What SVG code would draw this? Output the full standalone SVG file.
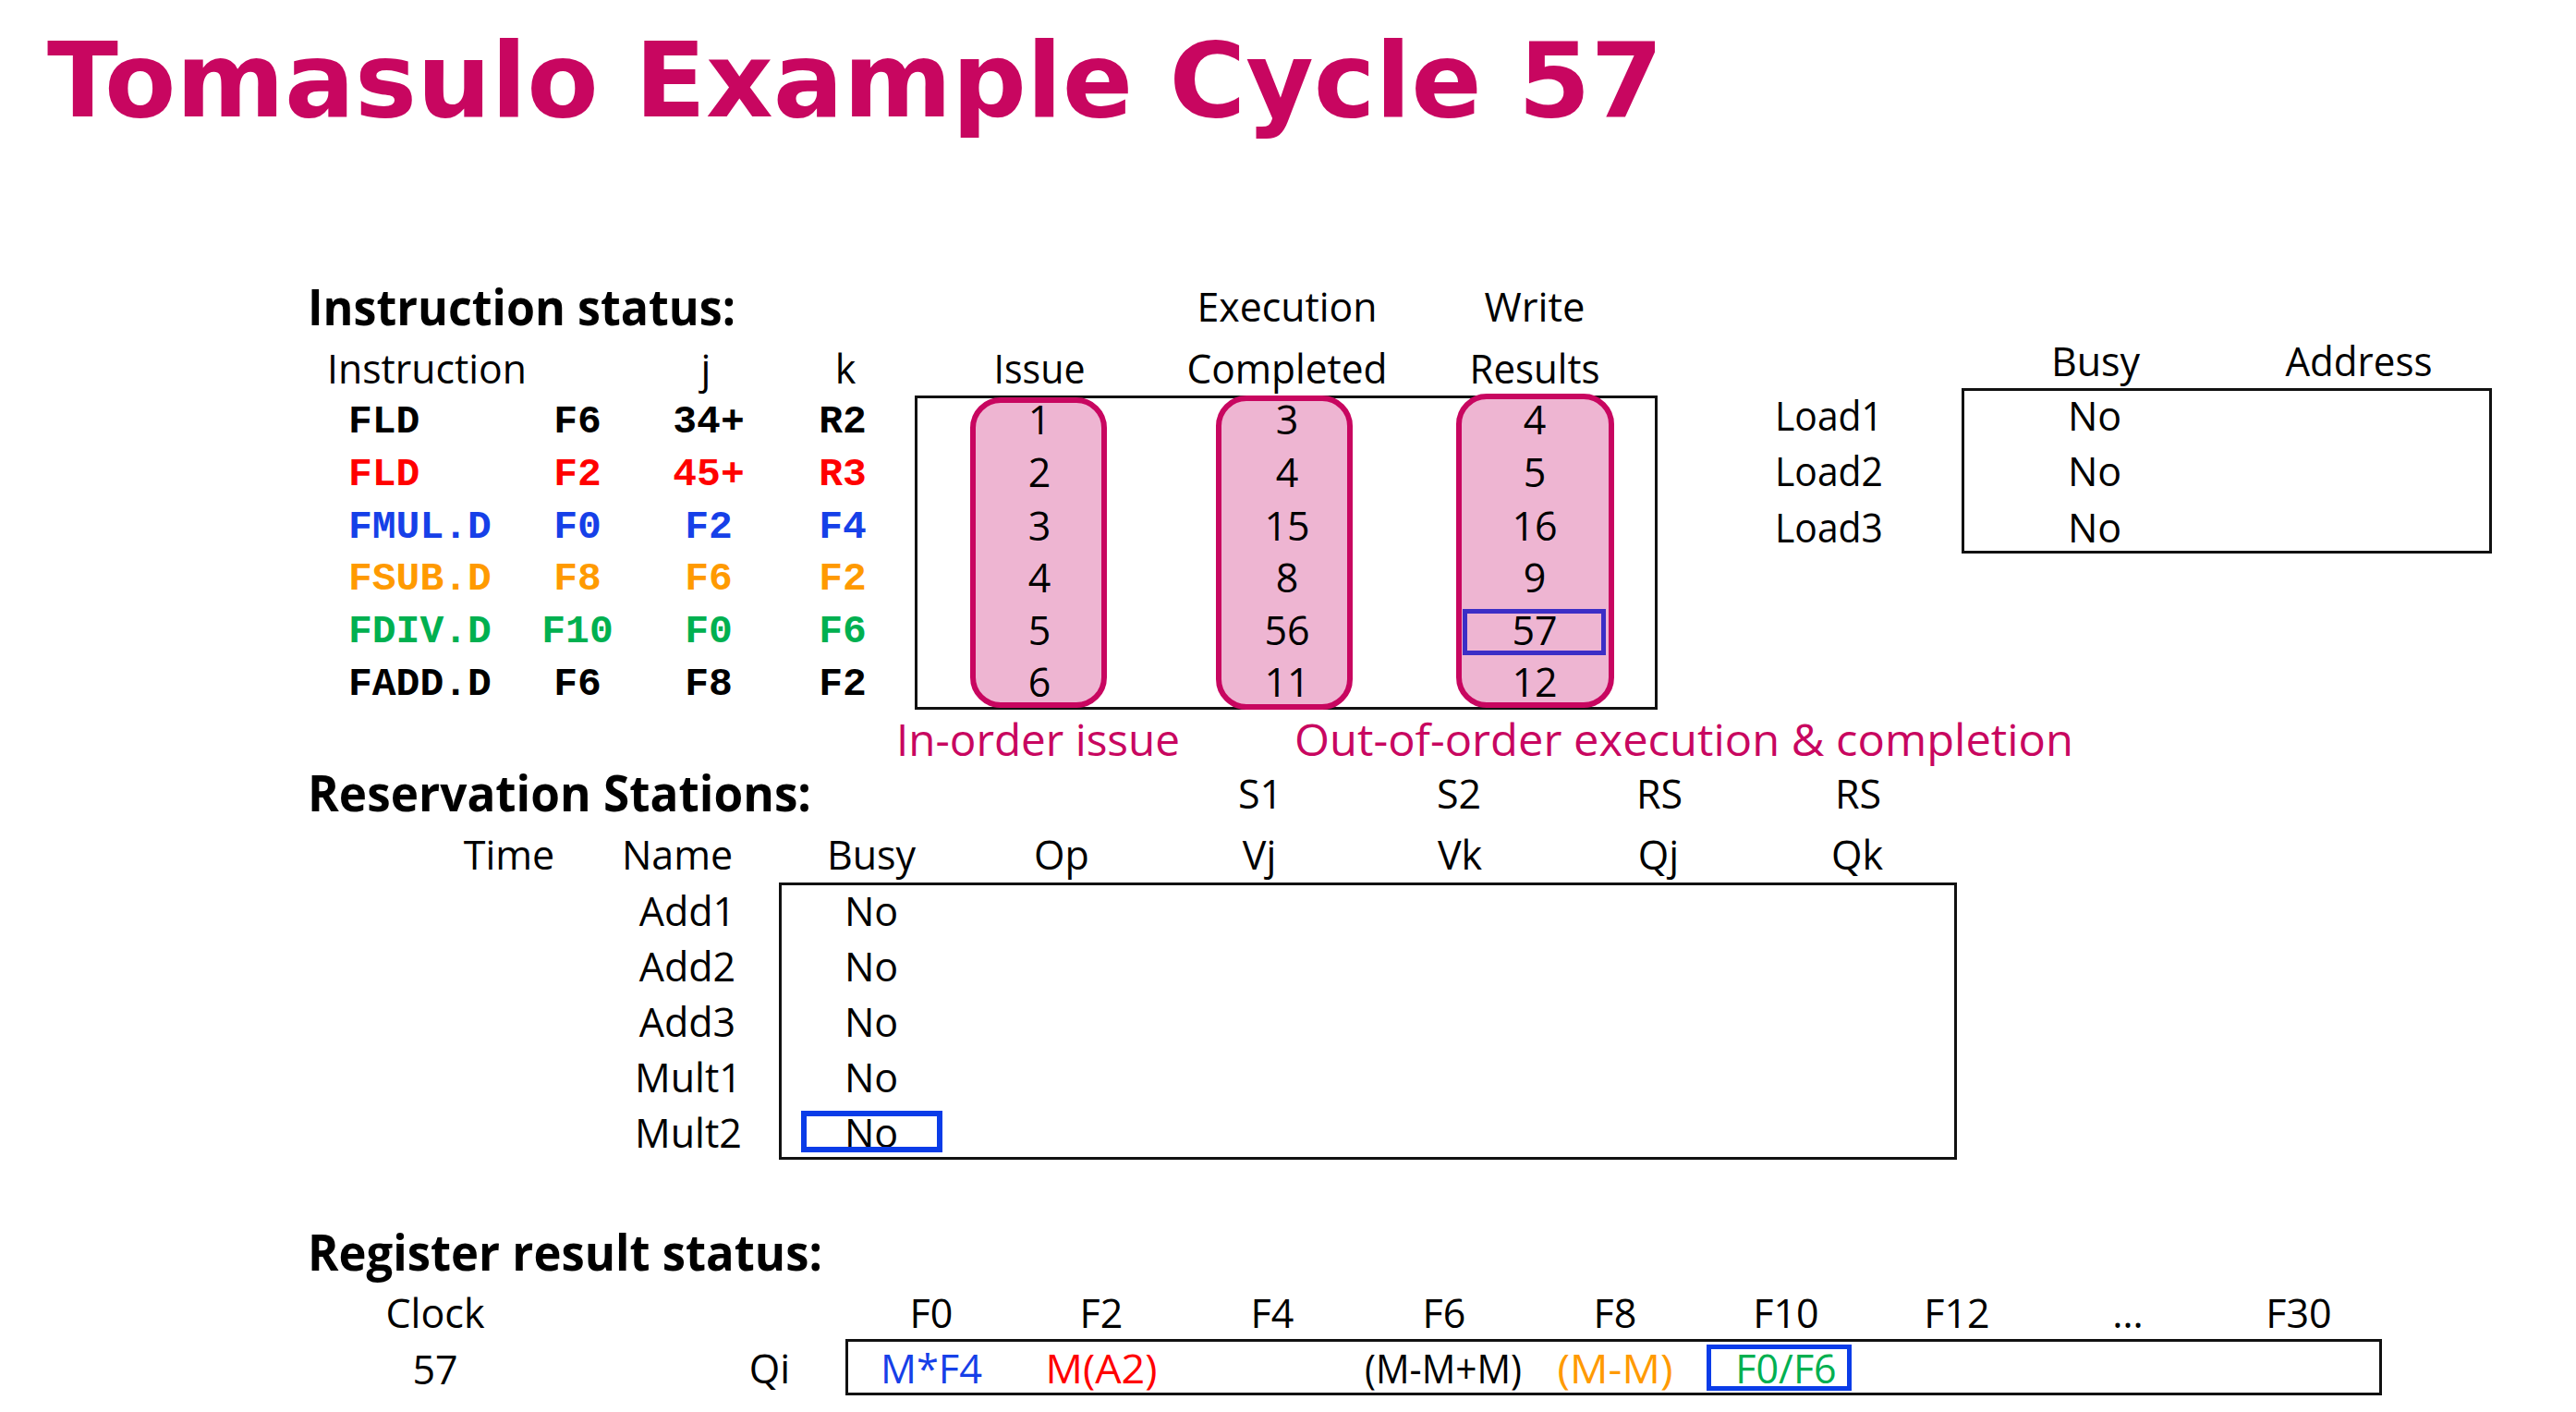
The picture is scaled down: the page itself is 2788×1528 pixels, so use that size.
<svg xmlns="http://www.w3.org/2000/svg" width="2788" height="1528" viewBox="0 0 2788 1528">
<style>
text{font-family:"Open Sans","Liberation Sans",sans-serif;font-size:43px;fill:#000}
.c{text-anchor:middle}
.h{font-weight:bold;font-size:54px}
.m{font-family:"Liberation Mono","Courier New",monospace;font-weight:bold;font-size:43px}
.mg{fill:#C80660;font-size:47px}
.box{fill:none;stroke:#111;stroke-width:3}
.pill{fill:#EEB5D2;stroke:#C80660;stroke-width:6}
.blue{fill:#1640E8}.red{fill:#FF0000}.orange{fill:#FF9A00}.green{fill:#00B050}
</style>
<rect width="2788" height="1528" fill="#fff"/>
<g id="title">
<text x="51" y="126" textLength="1749" lengthAdjust="spacingAndGlyphs" style="font-family:'DejaVu Sans',Verdana,sans-serif;font-weight:bold;font-size:112px;fill:#C80660">Tomasulo Example Cycle 57</text>
</g>
<g id="instruction-status">
<text class="h" x="333" y="352" textLength="463" lengthAdjust="spacingAndGlyphs">Instruction status:</text>
<text x="354" y="415" textLength="216" lengthAdjust="spacingAndGlyphs">Instruction</text>
<text class="c" x="764" y="415">j</text>
<text class="c" x="915" y="415">k</text>
<text class="c" x="1393" y="348" textLength="195" lengthAdjust="spacingAndGlyphs">Execution</text>
<text class="c" x="1661" y="348" textLength="109" lengthAdjust="spacingAndGlyphs">Write</text>
<text class="c" x="1125" y="415" textLength="99" lengthAdjust="spacingAndGlyphs">Issue</text>
<text class="c" x="1393" y="415" textLength="217" lengthAdjust="spacingAndGlyphs">Completed</text>
<text class="c" x="1661" y="415" textLength="141" lengthAdjust="spacingAndGlyphs">Results</text>
<g id="instr-rows">
<text class="m" x="377" y="468">FLD</text><text class="m c" x="625" y="468">F6</text><text class="m c" x="767" y="468">34+</text><text class="m c" x="912" y="468">R2</text>
<text class="m red" x="377" y="525">FLD</text><text class="m c red" x="625" y="525">F2</text><text class="m c red" x="767" y="525">45+</text><text class="m c red" x="912" y="525">R3</text>
<text class="m blue" x="377" y="582">FMUL.D</text><text class="m c blue" x="625" y="582">F0</text><text class="m c blue" x="767" y="582">F2</text><text class="m c blue" x="912" y="582">F4</text>
<text class="m orange" x="377" y="638">FSUB.D</text><text class="m c orange" x="625" y="638">F8</text><text class="m c orange" x="767" y="638">F6</text><text class="m c orange" x="912" y="638">F2</text>
<text class="m green" x="377" y="695">FDIV.D</text><text class="m c green" x="625" y="695">F10</text><text class="m c green" x="767" y="695">F0</text><text class="m c green" x="912" y="695">F6</text>
<text class="m" x="377" y="752">FADD.D</text><text class="m c" x="625" y="752">F6</text><text class="m c" x="767" y="752">F8</text><text class="m c" x="912" y="752">F2</text>
</g>
<rect class="box" x="991.5" y="429.5" width="801" height="337"/>
<rect id="issue-col" class="pill" x="1053" y="433" width="142" height="330" rx="30"/>
<rect id="exec-col" class="pill" x="1319" y="431" width="142" height="334" rx="30"/>
<rect id="write-col" class="pill" x="1579" y="429" width="165" height="334" rx="30"/>
<rect x="1585.5" y="661.5" width="150" height="45" fill="none" stroke="#3C2EC6" stroke-width="5"/>
<g id="issue-nums" style="fill:#2a0015">
<text class="c" x="1125" y="470">1</text><text class="c" x="1125" y="527">2</text><text class="c" x="1125" y="585">3</text><text class="c" x="1125" y="641">4</text><text class="c" x="1125" y="698">5</text><text class="c" x="1125" y="754">6</text>
</g>
<g id="exec-nums">
<text class="c" x="1393" y="470">3</text><text class="c" x="1393" y="527">4</text><text class="c" x="1393" y="585">15</text><text class="c" x="1393" y="641">8</text><text class="c" x="1393" y="698">56</text><text class="c" x="1393" y="754">11</text>
</g>
<g id="write-nums">
<text class="c" x="1661" y="470">4</text><text class="c" x="1661" y="527">5</text><text class="c" x="1661" y="585">16</text><text class="c" x="1661" y="641">9</text><text class="c" x="1661" y="698">57</text><text class="c" x="1661" y="754">12</text>
</g>
<text class="mg" x="970" y="818" textLength="307" lengthAdjust="spacingAndGlyphs">In-order issue</text>
<text class="mg" x="1401" y="818" textLength="843" lengthAdjust="spacingAndGlyphs">Out-of-order execution &amp; completion</text>
</g>
<g id="load-buffers">
<text class="c" x="2268" y="407">Busy</text>
<text class="c" x="2553" y="407" textLength="159" lengthAdjust="spacingAndGlyphs">Address</text>
<rect class="box" x="2124.5" y="421.5" width="571" height="176"/>
<text x="1921" y="466" textLength="117" lengthAdjust="spacingAndGlyphs">Load1</text>
<text x="1921" y="526" textLength="117" lengthAdjust="spacingAndGlyphs">Load2</text>
<text x="1921" y="587" textLength="117" lengthAdjust="spacingAndGlyphs">Load3</text>
<text class="c" x="2267" y="466">No</text>
<text class="c" x="2267" y="526">No</text>
<text class="c" x="2267" y="587">No</text>
</g>
<g id="reservation-stations">
<text class="h" x="333" y="878" textLength="545" lengthAdjust="spacingAndGlyphs">Reservation Stations:</text>
<text class="c" x="1364" y="875">S1</text><text class="c" x="1579" y="875">S2</text><text class="c" x="1796" y="875">RS</text><text class="c" x="2011" y="875">RS</text>
<text class="c" x="551" y="941">Time</text><text class="c" x="733" y="941">Name</text><text class="c" x="943" y="941">Busy</text><text class="c" x="1149" y="941">Op</text>
<text class="c" x="1363" y="941">Vj</text><text class="c" x="1580" y="941">Vk</text><text class="c" x="1795" y="941">Qj</text><text class="c" x="2010" y="941">Qk</text>
<rect class="box" x="844.5" y="956.5" width="1272" height="297"/>
<text class="c" x="744" y="1002">Add1</text><text class="c" x="744" y="1062">Add2</text><text class="c" x="744" y="1122">Add3</text><text class="c" x="745" y="1182">Mult1</text><text class="c" x="745" y="1242">Mult2</text>
<text class="c" x="943" y="1002">No</text><text class="c" x="943" y="1062">No</text><text class="c" x="943" y="1122">No</text><text class="c" x="943" y="1182">No</text><text class="c" x="943" y="1242">No</text>
<rect x="870" y="1205" width="147" height="39" fill="none" stroke="#0A3CE8" stroke-width="6"/>
</g>
<g id="register-status">
<text class="h" x="333" y="1375" textLength="557" lengthAdjust="spacingAndGlyphs">Register result status:</text>
<text class="c" x="471" y="1437">Clock</text>
<text class="c" x="471" y="1498">57</text>
<text class="c" x="833" y="1497">Qi</text>
<text class="c" x="1008" y="1437">F0</text><text class="c" x="1192" y="1437">F2</text><text class="c" x="1377" y="1437">F4</text><text class="c" x="1563" y="1437">F6</text><text class="c" x="1748" y="1437">F8</text>
<text class="c" x="1933" y="1437">F10</text><text class="c" x="2118" y="1437">F12</text><text class="c" x="2303" y="1437">…</text><text class="c" x="2488" y="1437">F30</text>
<rect class="box" x="916.5" y="1450.5" width="1660" height="58"/>
<text class="c blue" x="1008" y="1497" textLength="110" lengthAdjust="spacingAndGlyphs">M*F4</text>
<text class="c red" x="1192" y="1497" textLength="121" lengthAdjust="spacingAndGlyphs">M(A2)</text>
<text class="c" x="1562" y="1497" textLength="170" lengthAdjust="spacingAndGlyphs">(M-M+M)</text>
<text class="c orange" x="1748" y="1497" textLength="125" lengthAdjust="spacingAndGlyphs">(M-M)</text>
<text class="c green" x="1933" y="1497">F0/F6</text>
<rect x="1849.5" y="1457.5" width="152" height="45" fill="none" stroke="#0A3CE8" stroke-width="5"/>
</g>
</svg>
